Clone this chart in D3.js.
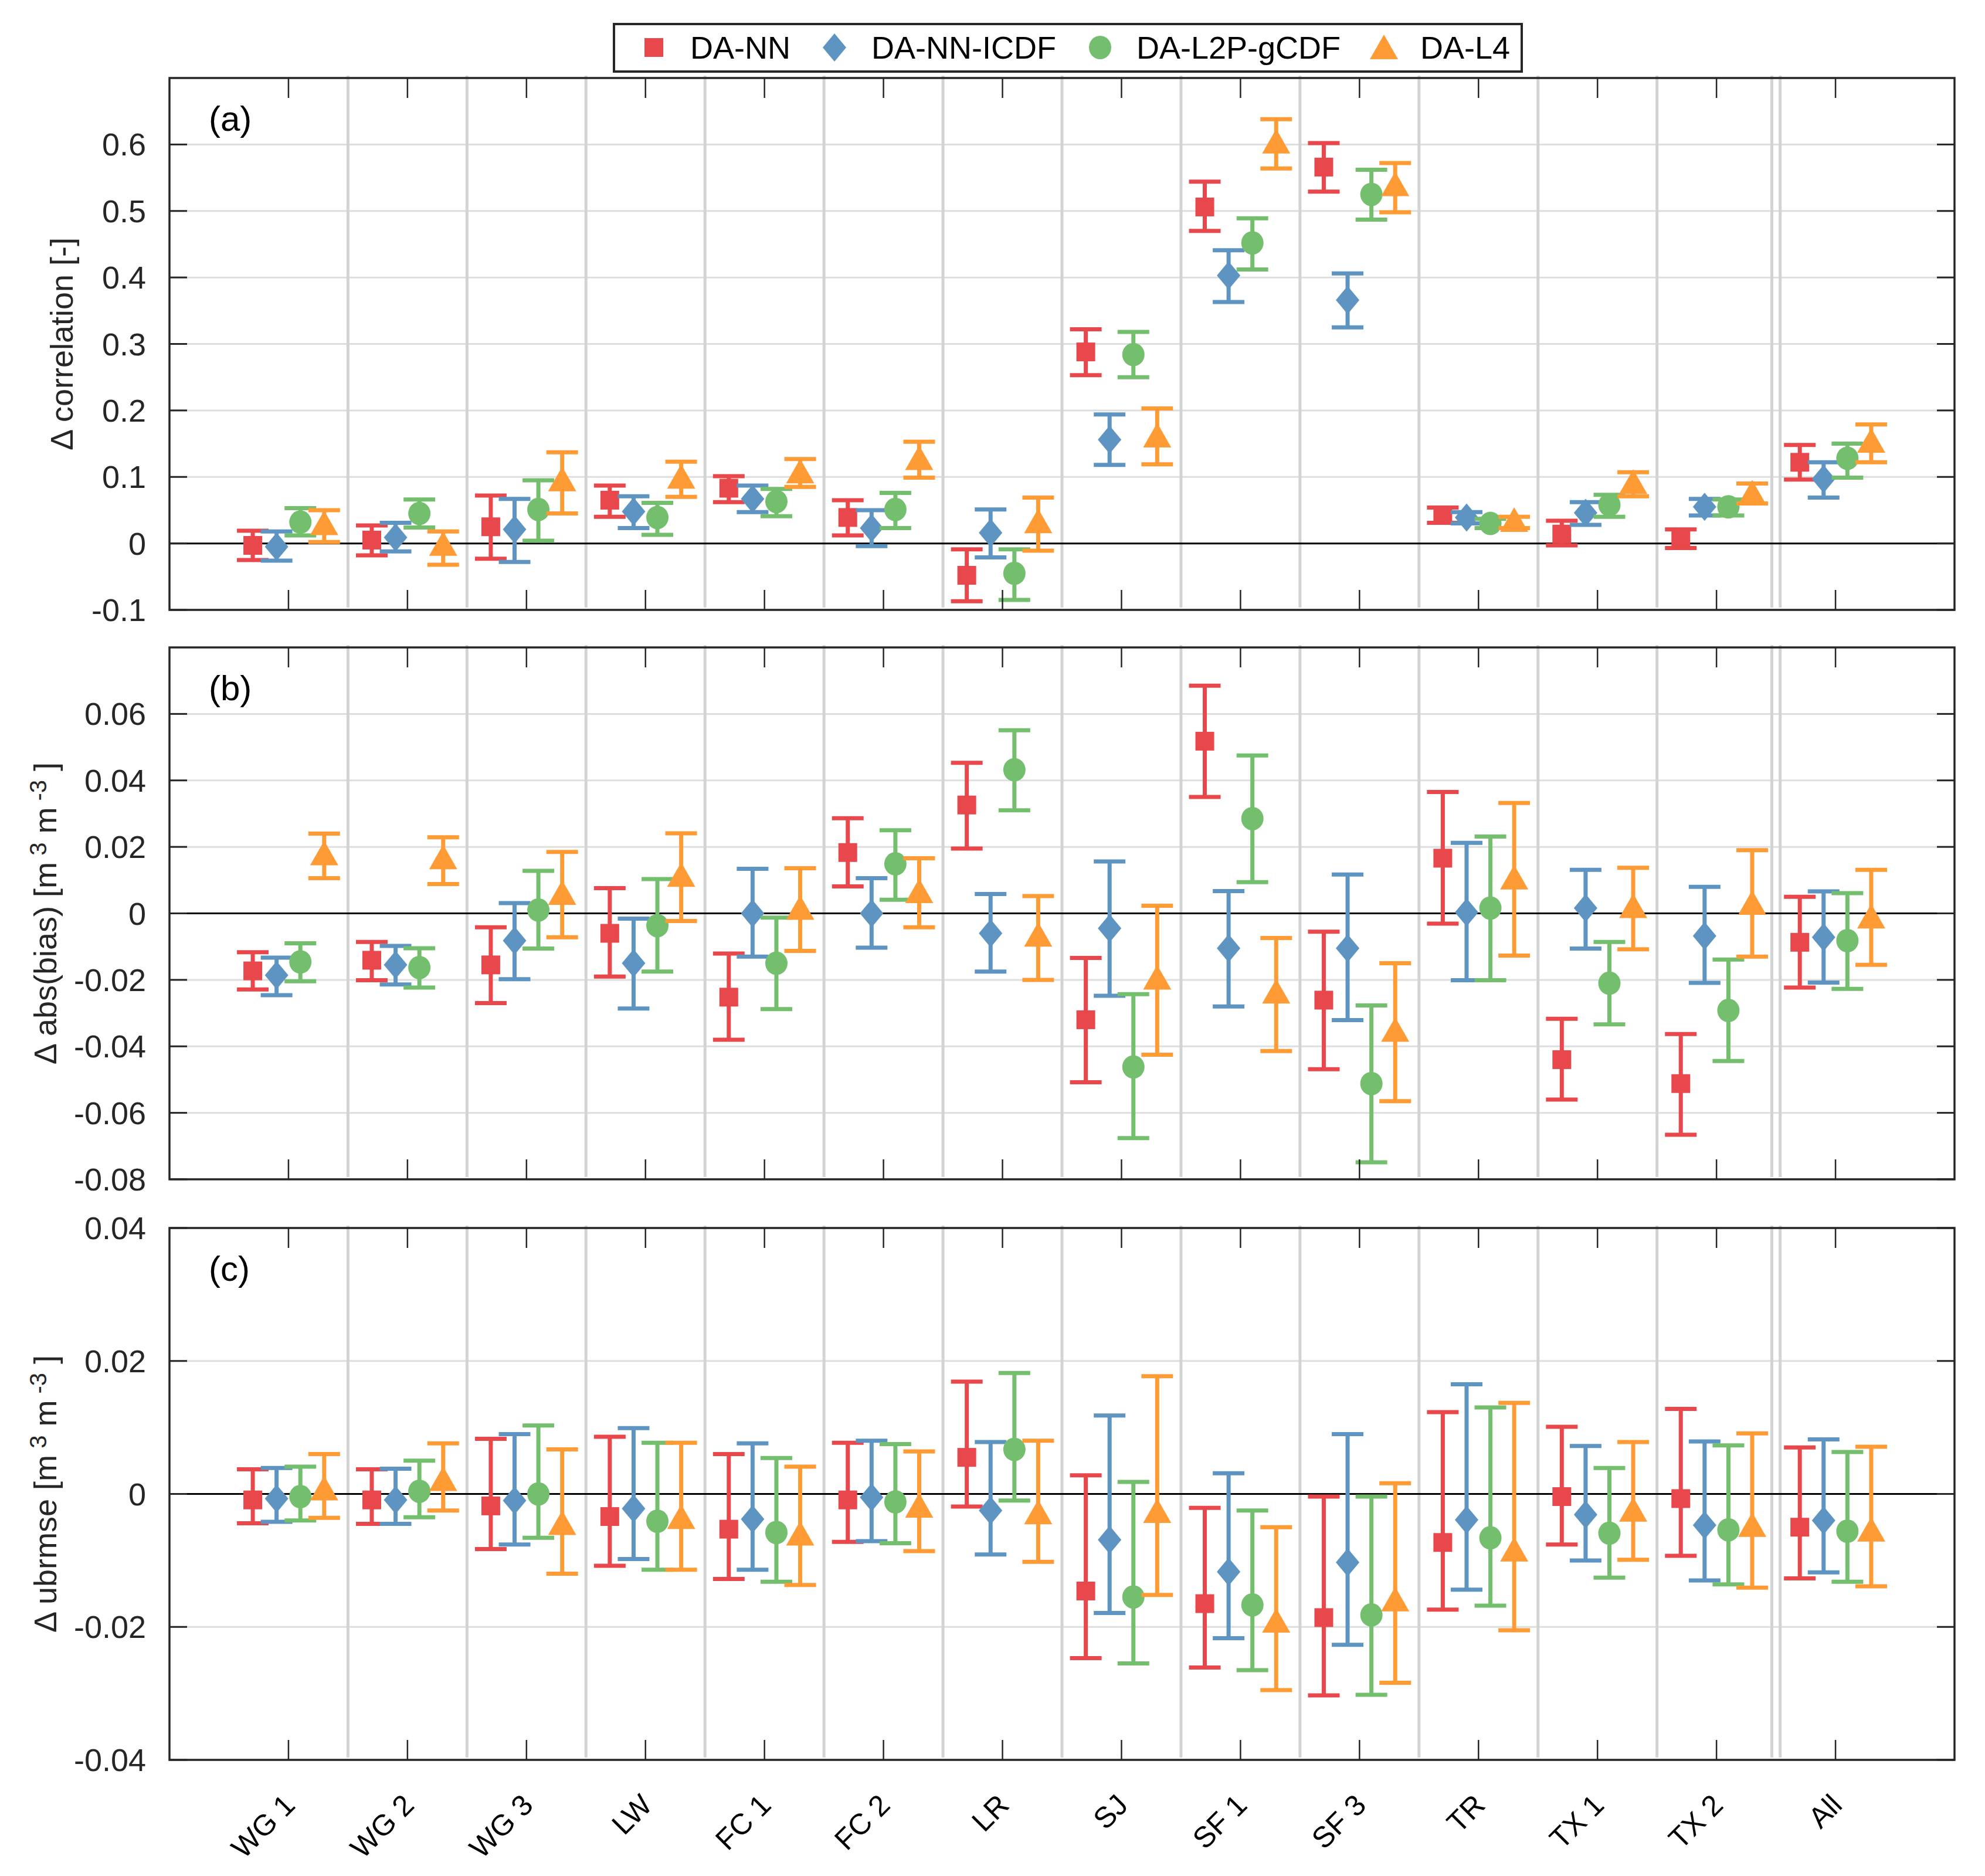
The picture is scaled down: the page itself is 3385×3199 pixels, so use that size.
<!DOCTYPE html>
<html>
<head>
<meta charset="utf-8">
<script src="https://cdn.jsdelivr.net/npm/d3@7"></script>
<style>
  html, body { margin: 0; padding: 0; background: #fff; }
  svg { display: block; font-family: "Liberation Sans", Arial, Helvetica, sans-serif; }
</style>
</head>
<body>
<div id="chart"></div>
<script>
const W = 3385, H = 3199;
const LEFT = 289, RIGHT = 3333;
const PANEL_H = 907;
const PANEL_TOPS = [133, 1104, 2094];
const CAP_W = 27;
const ERR_W = 7;

const sites = ["WG 1", "WG 2", "WG 3", "LW", "FC 1", "FC 2", "LR", "SJ", "SF 1", "SF 3", "TR", "TX 1", "TX 2", "All"];
const methods = ["DA-NN", "DA-NN-ICDF", "DA-L2P-gCDF", "DA-L4"];
const colors = ["#e8484b", "#5d94c2", "#73bf6d", "#fe9b35"];
const shapes = ["square", "diamond", "circle", "triangle"];
const offsets = [-0.3, -0.1, 0.1, 0.3];

// (a) delta correlation
const corrNN     = [-0.003, 0.005, 0.025, 0.065, 0.083, 0.039, -0.048, 0.288, 0.506, 0.566, 0.042, 0.014, 0.009, 0.122];
const corrNNLo   = [-0.025, -0.018, -0.023, 0.040, 0.062, 0.012, -0.087, 0.253, 0.470, 0.529, 0.031, -0.003, -0.007, 0.096];
const corrNNHi   = [0.019, 0.027, 0.072, 0.087, 0.101, 0.065, -0.009, 0.322, 0.544, 0.602, 0.054, 0.034, 0.021, 0.148];
const corrICDF   = [-0.005, 0.009, 0.021, 0.048, 0.067, 0.023, 0.016, 0.156, 0.403, 0.366, 0.039, 0.046, 0.055, 0.097];
const corrICDFLo = [-0.026, -0.012, -0.028, 0.023, 0.047, -0.004, -0.021, 0.118, 0.363, 0.325, 0.030, 0.028, 0.042, 0.069];
const corrICDFHi = [0.018, 0.031, 0.067, 0.071, 0.087, 0.050, 0.051, 0.194, 0.441, 0.406, 0.047, 0.062, 0.067, 0.122];
const corrGCDF   = [0.032, 0.045, 0.051, 0.039, 0.063, 0.051, -0.045, 0.284, 0.452, 0.525, 0.030, 0.058, 0.055, 0.128];
const corrGCDFLo = [0.012, 0.024, 0.004, 0.013, 0.041, 0.023, -0.085, 0.250, 0.412, 0.487, 0.023, 0.040, 0.042, 0.099];
const corrGCDFHi = [0.053, 0.066, 0.095, 0.061, 0.082, 0.076, -0.009, 0.318, 0.489, 0.562, 0.037, 0.073, 0.066, 0.150];
const corrL4     = [0.030, -0.001, 0.096, 0.100, 0.108, 0.128, 0.033, 0.162, 0.604, 0.540, 0.035, 0.092, 0.076, 0.154];
const corrL4Lo   = [0.002, -0.032, 0.045, 0.070, 0.085, 0.099, -0.011, 0.119, 0.564, 0.498, 0.023, 0.071, 0.060, 0.122];
const corrL4Hi   = [0.050, 0.018, 0.137, 0.123, 0.127, 0.153, 0.069, 0.203, 0.638, 0.572, 0.040, 0.107, 0.090, 0.179];

// (b) delta abs(bias)
const biasNN     = [-0.0173, -0.0141, -0.0155, -0.0060, -0.0252, 0.0183, 0.0326, -0.0320, 0.0518, -0.0261, 0.0166, -0.0440, -0.0512, -0.0087];
const biasNNLo   = [-0.0229, -0.0201, -0.0270, -0.0190, -0.0380, 0.0081, 0.0195, -0.0508, 0.0350, -0.0469, -0.0031, -0.0560, -0.0666, -0.0223];
const biasNNHi   = [-0.0117, -0.0086, -0.0042, 0.0076, -0.0121, 0.0286, 0.0453, -0.0134, 0.0685, -0.0055, 0.0365, -0.0317, -0.0363, 0.0050];
const biasICDF   = [-0.0186, -0.0155, -0.0082, -0.0150, 0.0000, 0.0000, -0.0060, -0.0045, -0.0105, -0.0105, 0.0003, 0.0016, -0.0068, -0.0072];
const biasICDFLo = [-0.0246, -0.0214, -0.0198, -0.0286, -0.0130, -0.0103, -0.0175, -0.0248, -0.0280, -0.0321, -0.0201, -0.0106, -0.0209, -0.0208];
const biasICDFHi = [-0.0133, -0.0098, 0.0031, -0.0016, 0.0134, 0.0106, 0.0058, 0.0156, 0.0067, 0.0117, 0.0212, 0.0131, 0.0080, 0.0066];
const biasGCDF   = [-0.0146, -0.0163, 0.0010, -0.0037, -0.0150, 0.0149, 0.0432, -0.0462, 0.0285, -0.0512, 0.0016, -0.0210, -0.0292, -0.0082];
const biasGCDFLo = [-0.0204, -0.0223, -0.0106, -0.0175, -0.0288, 0.0041, 0.0310, -0.0676, 0.0094, -0.0749, -0.0201, -0.0334, -0.0444, -0.0227];
const biasGCDFHi = [-0.0090, -0.0105, 0.0128, 0.0103, -0.0013, 0.0250, 0.0551, -0.0243, 0.0475, -0.0277, 0.0231, -0.0086, -0.0139, 0.0061];
const biasL4     = [0.0180, 0.0168, 0.0061, 0.0115, 0.0016, 0.0066, -0.0065, -0.0194, -0.0236, -0.0351, 0.0107, 0.0021, 0.0031, -0.0010];
const biasL4Lo   = [0.0106, 0.0088, -0.0072, -0.0023, -0.0113, -0.0042, -0.0200, -0.0425, -0.0414, -0.0565, -0.0127, -0.0108, -0.0130, -0.0155];
const biasL4Hi   = [0.0240, 0.0229, 0.0185, 0.0241, 0.0136, 0.0166, 0.0052, 0.0023, -0.0074, -0.0150, 0.0332, 0.0137, 0.0190, 0.0131];

// (c) delta ubrmse
const ubNN     = [-0.0009, -0.0009, -0.0018, -0.0034, -0.0053, -0.0009, 0.0055, -0.0146, -0.0165, -0.0186, -0.0073, -0.0004, -0.0007, -0.0050];
const ubNNLo   = [-0.0044, -0.0045, -0.0083, -0.0108, -0.0128, -0.0072, -0.0019, -0.0247, -0.0261, -0.0303, -0.0174, -0.0076, -0.0093, -0.0127];
const ubNNHi   = [0.0037, 0.0037, 0.0083, 0.0086, 0.0060, 0.0077, 0.0169, 0.0028, -0.0021, -0.0004, 0.0123, 0.0101, 0.0128, 0.0070];
const ubICDF   = [-0.0007, -0.0009, -0.0010, -0.0022, -0.0038, -0.0005, -0.0025, -0.0069, -0.0117, -0.0103, -0.0039, -0.0031, -0.0047, -0.0040];
const ubICDFLo = [-0.0042, -0.0045, -0.0076, -0.0098, -0.0114, -0.0071, -0.0091, -0.0179, -0.0217, -0.0227, -0.0144, -0.0100, -0.0130, -0.0118];
const ubICDFHi = [0.0039, 0.0038, 0.0090, 0.0099, 0.0076, 0.0080, 0.0078, 0.0118, 0.0031, 0.0090, 0.0165, 0.0072, 0.0079, 0.0082];
const ubGCDF   = [-0.0004, 0.0004, 0.0000, -0.0041, -0.0058, -0.0012, 0.0067, -0.0155, -0.0167, -0.0182, -0.0066, -0.0059, -0.0054, -0.0056];
const ubGCDFLo = [-0.0040, -0.0035, -0.0066, -0.0114, -0.0132, -0.0074, -0.0010, -0.0255, -0.0265, -0.0302, -0.0168, -0.0126, -0.0136, -0.0132];
const ubGCDFHi = [0.0041, 0.0050, 0.0103, 0.0077, 0.0054, 0.0075, 0.0182, 0.0018, -0.0025, -0.0004, 0.0130, 0.0039, 0.0073, 0.0063];
const ubL4     = [0.0008, 0.0022, -0.0044, -0.0035, -0.0060, -0.0018, -0.0028, -0.0026, -0.0191, -0.0159, -0.0084, -0.0024, -0.0047, -0.0054];
const ubL4Lo   = [-0.0036, -0.0025, -0.0120, -0.0114, -0.0137, -0.0086, -0.0102, -0.0152, -0.0295, -0.0284, -0.0205, -0.0099, -0.0141, -0.0139];
const ubL4Hi   = [0.0060, 0.0076, 0.0067, 0.0077, 0.0041, 0.0064, 0.0080, 0.0177, -0.0050, 0.0016, 0.0137, 0.0078, 0.0091, 0.0071];

const corrTicks = [-0.1, 0, 0.1, 0.2, 0.3, 0.4, 0.5, 0.6];
const biasTicks = [-0.08, -0.06, -0.04, -0.02, 0, 0.02, 0.04, 0.06];
const ubTicks = [-0.04, -0.02, 0, 0.02, 0.04];

const panels = [
  { tag: "(a)", domain: [-0.1, 0.7], ticks: corrTicks, labelX: 124,
    label: [["\u0394 correlation [-]", false]],
    series: [[corrNN, corrNNLo, corrNNHi], [corrICDF, corrICDFLo, corrICDFHi],
             [corrGCDF, corrGCDFLo, corrGCDFHi], [corrL4, corrL4Lo, corrL4Hi]] },
  { tag: "(b)", domain: [-0.08, 0.08], ticks: biasTicks, labelX: 96,
    label: [["\u0394 abs(bias) [m", false], [" 3", true], [" m", false], [" -3", true], [" ]", false]],
    series: [[biasNN, biasNNLo, biasNNHi], [biasICDF, biasICDFLo, biasICDFHi],
             [biasGCDF, biasGCDFLo, biasGCDFHi], [biasL4, biasL4Lo, biasL4Hi]] },
  { tag: "(c)", domain: [-0.04, 0.04], ticks: ubTicks, labelX: 96,
    label: [["\u0394 ubrmse [m", false], [" 3", true], [" m", false], [" -3", true], [" ]", false]],
    series: [[ubNN, ubNNLo, ubNNHi], [ubICDF, ubICDFLo, ubICDFHi],
             [ubGCDF, ubGCDFLo, ubGCDFHi], [ubL4, ubL4Lo, ubL4Hi]] }
];

const svg = d3.select("#chart").append("svg")
  .attr("width", W).attr("height", H)
  .attr("viewBox", [0, 0, W, H]);

const x = d3.scaleLinear().domain([0, 15]).range([LEFT, RIGHT]);
const fmt = (v) => String(+v.toFixed(3));

function drawMarker(g, shape, cx, cy, color) {
  if (shape === "square") {
    g.append("rect").attr("x", cx - 16).attr("y", cy - 16)
      .attr("width", 32).attr("height", 32).attr("fill", color);
  } else if (shape === "diamond") {
    g.append("path")
      .attr("d", `M${cx},${cy - 24}L${cx + 20},${cy}L${cx},${cy + 24}L${cx - 20},${cy}Z`)
      .attr("fill", color);
  } else if (shape === "circle") {
    g.append("ellipse").attr("cx", cx).attr("cy", cy)
      .attr("rx", 19).attr("ry", 20).attr("fill", color);
  } else {
    g.append("path")
      .attr("d", `M${cx},${cy - 22}L${cx + 24},${cy + 20}L${cx - 24},${cy + 20}Z`)
      .attr("fill", color);
  }
}

panels.forEach((p, pi) => {
  const top = PANEL_TOPS[pi];
  const bottom = top + PANEL_H;
  const y = d3.scaleLinear().domain(p.domain).range([bottom, top]);
  const g = svg.append("g").attr("class", "panel");

  // horizontal grid
  g.selectAll("line.grid").data(p.ticks).join("line")
    .attr("class", "grid")
    .attr("x1", LEFT).attr("x2", RIGHT)
    .attr("y1", (d) => y(d)).attr("y2", (d) => y(d))
    .attr("stroke", "#dedede").attr("stroke-width", 3);

  // station separators (double line before "All")
  const seps = d3.range(1, 13).map((i) => i + 0.5).concat([13.465, 13.535]);
  g.selectAll("line.sep").data(seps).join("line")
    .attr("class", "sep")
    .attr("x1", (d) => x(d)).attr("x2", (d) => x(d))
    .attr("y1", top - 4).attr("y2", bottom - 4)
    .attr("stroke", "#d3d3d3").attr("stroke-width", 5);

  // zero line
  g.append("line")
    .attr("x1", LEFT).attr("x2", RIGHT)
    .attr("y1", y(0)).attr("y2", y(0))
    .attr("stroke", "#000").attr("stroke-width", 3);

  // error bars + markers
  p.series.forEach(([mean, lo, hi], si) => {
    const color = colors[si];
    const gs = g.append("g").attr("class", "series");
    mean.forEach((m, i) => {
      const cx = x(i + 1 + offsets[si]);
      gs.append("line").attr("x1", cx).attr("x2", cx)
        .attr("y1", y(lo[i])).attr("y2", y(hi[i]))
        .attr("stroke", color).attr("stroke-width", ERR_W);
      [lo[i], hi[i]].forEach((v) => {
        gs.append("line").attr("x1", cx - CAP_W).attr("x2", cx + CAP_W)
          .attr("y1", y(v)).attr("y2", y(v))
          .attr("stroke", color).attr("stroke-width", ERR_W);
      });
      drawMarker(gs, shapes[si], cx, y(m), color);
    });
  });

  // frame
  g.append("rect")
    .attr("x", LEFT).attr("y", top)
    .attr("width", RIGHT - LEFT).attr("height", PANEL_H)
    .attr("fill", "none").attr("stroke", "#262626").attr("stroke-width", 3.5);

  // y ticks (inside, left and right)
  p.ticks.forEach((t) => {
    [[LEFT, LEFT + 30], [RIGHT, RIGHT - 30]].forEach(([a, b]) => {
      g.append("line").attr("x1", a).attr("x2", b)
        .attr("y1", y(t)).attr("y2", y(t))
        .attr("stroke", "#262626").attr("stroke-width", 3);
    });
  });
  g.selectAll("text.ytick").data(p.ticks).join("text")
    .attr("class", "ytick")
    .attr("x", LEFT - 40).attr("y", (d) => y(d))
    .attr("text-anchor", "end").attr("dominant-baseline", "central")
    .attr("font-size", 54).attr("fill", "#262626")
    .text(fmt);

  // x ticks (inside, top and bottom)
  d3.range(1, 15).forEach((i) => {
    [[top, top + 34], [bottom, bottom - 34]].forEach(([a, b]) => {
      g.append("line").attr("x1", x(i)).attr("x2", x(i))
        .attr("y1", a).attr("y2", b)
        .attr("stroke", "#262626").attr("stroke-width", 2.5);
    });
  });

  // panel tag
  g.append("text").attr("x", 356).attr("y", top + 90)
    .attr("font-size", 60).attr("fill", "#000").text(p.tag);

  // y label
  const yl = g.append("text")
    .attr("transform", `translate(${p.labelX},${(top + bottom) / 2}) rotate(-90)`)
    .attr("text-anchor", "middle")
    .attr("font-size", 54).attr("fill", "#262626");
  p.label.forEach(([s, sup]) => {
    const ts = yl.append("tspan").text(s);
    if (sup) ts.attr("baseline-shift", "42%").attr("font-size", 40);
  });
});

// x tick labels under bottom panel
const lastBottom = PANEL_TOPS[2] + PANEL_H;
svg.selectAll("text.xlab").data(sites).join("text")
  .attr("class", "xlab")
  .attr("transform", (d, i) => `translate(${x(i + 1) + 2},${lastBottom + 68}) rotate(-45)`)
  .attr("text-anchor", "end").attr("dominant-baseline", "central")
  .attr("font-size", 50).attr("fill", "#000")
  .text((d) => d);

// legend
const lg = svg.append("g").attr("class", "legend");
lg.append("rect").attr("x", 1047).attr("y", 41).attr("width", 1548).attr("height", 81)
  .attr("fill", "#fff").attr("stroke", "#262626").attr("stroke-width", 4);
const legMarkX = [1115, 1423, 1876, 2360];
const legTextX = [1177, 1486, 1938, 2422];
methods.forEach((m, i) => {
  drawMarker(lg, shapes[i], legMarkX[i], 81, colors[i]);
  lg.append("text").attr("x", legTextX[i]).attr("y", 100)
    .attr("font-size", 54).attr("fill", "#000").text(m);
});
</script>
</body>
</html>
